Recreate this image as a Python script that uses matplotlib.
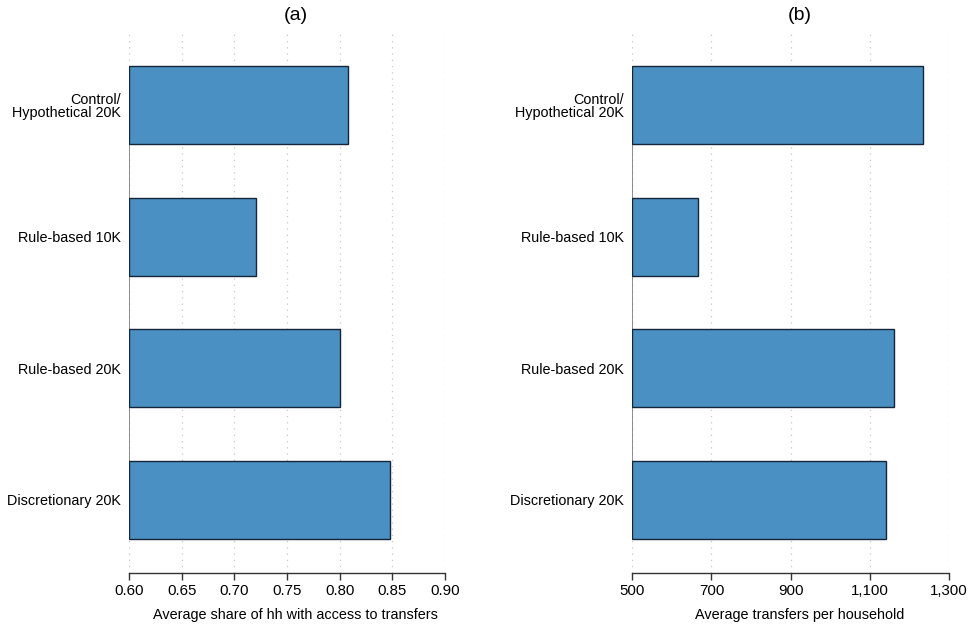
import matplotlib
matplotlib.use("Agg")
import matplotlib.pyplot as plt
from matplotlib.ticker import FuncFormatter

plt.rcParams['font.family'] = ['Liberation Sans', 'DejaVu Sans']

categories = ["Control/\nHypothetical 20K", "Rule-based 10K", "Rule-based 20K", "Discretionary 20K"]
share_access = [0.808, 0.721, 0.800, 0.848]
transfers_per_hh = [1234, 667, 1162, 1142]

xlim_a = (0.60, 0.90)
xticks_a = [0.60, 0.65, 0.70, 0.75, 0.80, 0.85, 0.90]
xlim_b = (500, 1300)
xticks_b = [500, 700, 900, 1100, 1300]

bar_color = "#4a90c2"
edge_color = "#16263a"

fig = plt.figure(figsize=(9.69, 6.24), dpi=100)
ax_a = fig.add_axes([0.1331, 0.0817, 0.3261, 0.8638])
ax_b = fig.add_axes([0.6525, 0.0817, 0.3269, 0.8638])


def draw_panel(ax, values, xlim, xticks, fmt, xlabel, title):
    ypos = list(range(len(categories)))
    base = xlim[0]
    widths = [v - base for v in values]
    ax.barh(ypos, widths, left=base, height=0.595, color=bar_color,
            edgecolor=edge_color, linewidth=1.0, zorder=3)
    ax.set_ylim(3.555, -0.54)
    ax.set_xlim(*xlim)
    ax.set_xticks(xticks)
    ax.xaxis.set_major_formatter(FuncFormatter(fmt))
    ax.set_yticks(ypos)
    ax.set_yticklabels(categories, fontsize=10.4, linespacing=0.95)
    ax.tick_params(axis='y', length=0, pad=6)
    ax.tick_params(axis='x', length=5, width=1.0, color="#333333",
                   labelsize=10.8, pad=3)
    for s in ("top", "right", "left"):
        ax.spines[s].set_visible(False)
    ax.spines["bottom"].set_color("#333333")
    ax.spines["bottom"].set_linewidth(1.0)
    ax.grid(axis='x', color="#c8c8c8", linestyle=(0, (1, 4)), linewidth=0.9, zorder=0)
    ax.grid(axis='y', visible=False)
    # baseline of the bars
    ax.plot([base, base], [ypos[0] - 0.2975, ypos[-1] + 0.2975], color="#7a7a7a",
            linewidth=1.2, zorder=2, solid_capstyle='butt')
    ax.set_xlabel(xlabel, fontsize=10.4)
    ax.xaxis.set_label_coords(0.528, -0.064)
    ax.text(0.528, 1.034, title, transform=ax.transAxes, ha='center', va='center',
            fontsize=14)


draw_panel(ax_a, share_access, xlim_a, xticks_a, lambda v, p: f"{v:.2f}",
           "Average share of hh with access to transfers", "(a)")
draw_panel(ax_b, transfers_per_hh, xlim_b, xticks_b, lambda v, p: f"{v:,.0f}",
           "Average transfers per household", "(b)")

fig.savefig("out.png", dpi=100, facecolor="white")
